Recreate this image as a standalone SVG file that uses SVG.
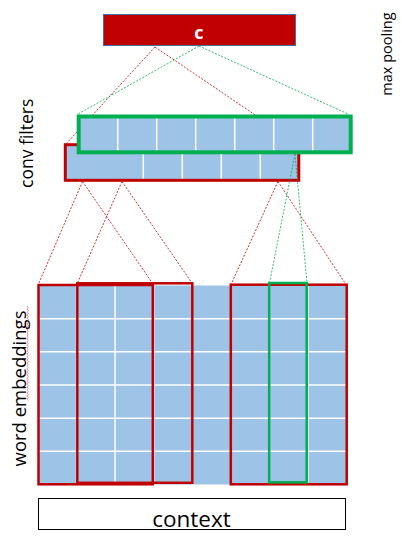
<svg xmlns="http://www.w3.org/2000/svg" width="402" height="549" viewBox="0 0 402 549">
<style>
.lbl{font-family:"Open Sans","Noto Sans","Liberation Sans",sans-serif;fill:#000}
.cell{fill:#9DC3E6}
.wl{stroke:#FFFFFF;stroke-width:1.5}
.dr{stroke:#C00000;stroke-width:0.8;stroke-dasharray:2 1.5;fill:none}
.dg{stroke:#00B050;stroke-width:0.8;stroke-dasharray:2 1.5;fill:none}
.rb{fill:none;stroke:#C00000;stroke-width:2.5}
.gb{fill:none;stroke:#00B050;stroke-width:2.5}
</style>
<rect width="402" height="549" fill="#FFFFFF"/>
<g id="maxpool">
<rect x="103.5" y="14.5" width="192" height="31" fill="#C00000" stroke="#41719C" stroke-width="1"/>
<text x="199" y="38.5" text-anchor="middle" font-family="Open Sans, Noto Sans, Liberation Sans, sans-serif" font-weight="bold" font-size="18" fill="#FFFFFF">c</text>
</g>
<g id="filter-red">
<rect x="65.3" y="144.7" width="233.5" height="35.6" class="cell"/>
<g class="wl"><line x1="143.3" y1="146" x2="143.3" y2="179"/><line x1="182.3" y1="146" x2="182.3" y2="179"/><line x1="221.3" y1="146" x2="221.3" y2="179"/><line x1="260.3" y1="146" x2="260.3" y2="179"/></g>
<rect x="65.3" y="144.7" width="233.5" height="35.6" fill="none" stroke="#C00000" stroke-width="3"/>
</g>
<g id="connectors">
<line class="dr" x1="155" y1="47" x2="65.3" y2="144.7"/>
<line class="dr" x1="155" y1="47" x2="299" y2="144.7"/>
<line class="dg" x1="199" y1="46" x2="78" y2="114"/>
<line class="dg" x1="199" y1="46" x2="348" y2="114"/>
<line class="dr" x1="82.5" y1="181.5" x2="38.5" y2="284"/>
<line class="dr" x1="82.5" y1="181.5" x2="153" y2="284"/>
<line class="dr" x1="122" y1="181.5" x2="77.5" y2="283"/>
<line class="dr" x1="122" y1="181.5" x2="192" y2="283"/>
<line class="dr" x1="278" y1="181.5" x2="231" y2="284.5"/>
<line class="dr" x1="278" y1="181.5" x2="346" y2="284.5"/>
<line class="dg" x1="295" y1="154" x2="269.5" y2="283"/>
<line class="dg" x1="295" y1="154" x2="307" y2="283"/>
</g>
<g id="filter-green">
<rect x="78.7" y="116.5" width="272" height="35.8" class="cell"/>
<g class="wl"><line x1="117.7" y1="118" x2="117.7" y2="151"/><line x1="156.7" y1="118" x2="156.7" y2="151"/><line x1="195.7" y1="118" x2="195.7" y2="151"/><line x1="234.7" y1="118" x2="234.7" y2="151"/><line x1="273.7" y1="118" x2="273.7" y2="151"/><line x1="312.7" y1="118" x2="312.7" y2="151"/></g>
<rect x="78.7" y="116.5" width="272" height="35.8" fill="none" stroke="#00B050" stroke-width="4"/>
</g>
<g id="embeddings">
<rect x="38" y="285.5" width="308.5" height="199" class="cell"/>
<g class="wl">
<line x1="76.6" y1="285.5" x2="76.6" y2="484.5"/><line x1="115.1" y1="285.5" x2="115.1" y2="484.5"/><line x1="153.7" y1="285.5" x2="153.7" y2="484.5"/><line x1="192.3" y1="285.5" x2="192.3" y2="484.5"/><line x1="230.8" y1="285.5" x2="230.8" y2="484.5"/><line x1="269.4" y1="285.5" x2="269.4" y2="484.5"/><line x1="307.9" y1="285.5" x2="307.9" y2="484.5"/>
<line x1="38" y1="318.7" x2="346.5" y2="318.7"/><line x1="38" y1="351.8" x2="346.5" y2="351.8"/><line x1="38" y1="385" x2="346.5" y2="385"/><line x1="38" y1="418.2" x2="346.5" y2="418.2"/><line x1="38" y1="451.3" x2="346.5" y2="451.3"/>
</g>
</g>
<g id="window-1"><rect class="rb" x="38.5" y="285" width="114.3" height="199.3"/></g>
<g id="window-2"><rect class="rb" x="77.3" y="283.3" width="115" height="199.5"/></g>
<g id="window-3"><rect class="rb" x="230.8" y="284.7" width="115.9" height="199.6"/></g>
<g id="window-green"><rect class="gb" x="269.2" y="283" width="37.5" height="199.3"/></g>
<g id="context">
<rect x="38.5" y="498.5" width="307" height="31" fill="#FFFFFF" stroke="#000000" stroke-width="1"/>
<text class="lbl" x="191.5" y="527" text-anchor="middle" font-size="22.5">context</text>
</g>
<g id="labels">
<text class="lbl" transform="translate(33,143.3) rotate(-90)" text-anchor="middle" font-size="17.5">conv filters</text>
<text class="lbl" transform="translate(391.5,54) rotate(-90)" text-anchor="middle" font-size="14.5">max pooling</text>
<text class="lbl" transform="translate(25.5,388.5) rotate(-90)" text-anchor="middle" font-size="18.5">word embeddings</text>
<path d="M27 306 l1.2 1.5 l-1.2 1.5 l1.2 1.5 l-1.2 1.5 l1.2 1.5 l-1.2 1.5 l1.2 1.5 l-1.2 1.5 l1.2 1.5 l-1.2 1.5 l1.2 1.5 l-1.2 1.5 l1.2 1.5 l-1.2 1.5 l1.2 1.5 l-1.2 1.5 l1.2 1.5 l-1.2 1.5 l1.2 1.5 l-1.2 1.5 l1.2 1.5 l-1.2 1.5 l1.2 1.5 l-1.2 1.5 l1.2 1.5 l-1.2 1.5 l1.2 1.5 l-1.2 1.5 l1.2 1.5 l-1.2 1.5 l1.2 1.5 l-1.2 1.5 l1.2 1.5 l-1.2 1.5 l1.2 1.5 l-1.2 1.5 l1.2 1.5 l-1.2 1.5 l1.2 1.5 l-1.2 1.5 l1.2 1.5 l-1.2 1.5 l1.2 1.5 l-1.2 1.5 l1.2 1.5 l-1.2 1.5 l1.2 1.5 l-1.2 1.5 l1.2 1.5 l-1.2 1.5 l1.2 1.5 l-1.2 1.5 l1.2 1.5 l-1.2 1.5 l1.2 1.5 l-1.2 1.5 l1.2 1.5 l-1.2 1.5 l1.2 1.5 l-1.2 1.5 l1.2 1.5 l-1.2 1.5 l1.2 1.5" fill="none" stroke="#FF4040" stroke-width="0.6"/>
</g>
</svg>
